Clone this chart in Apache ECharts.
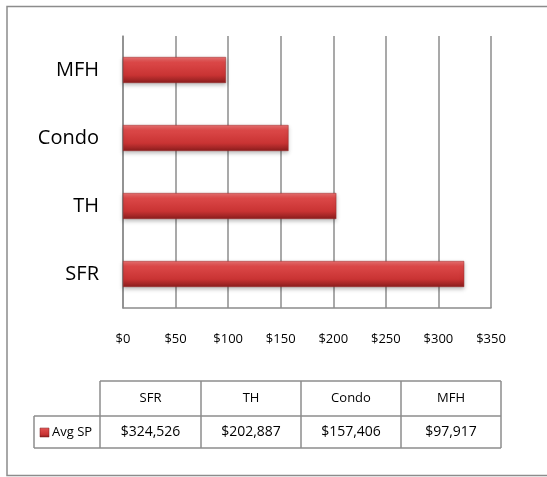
<!DOCTYPE html>
<html><head><meta charset="utf-8">
<script src="https://cdn.jsdelivr.net/npm/echarts@6/dist/echarts.min.js"></script>
<style>html,body{margin:0;padding:0;background:#fff;overflow:hidden}#c{width:547px;height:477px}</style>
</head><body><div id="c"></div>
<script>
var categories = ['SFR', 'TH', 'Condo', 'MFH'];
var avgSP = [324526, 202887, 157406, 97917];
var tableLabels = ['$324,526', '$202,887', '$157,406', '$97,917'];
var seriesName = 'Avg SP';
var xTicks = [0, 50, 100, 150, 200, 250, 300, 350];

var FONT = 'Open Sans, Liberation Sans, sans-serif';
var chart = echarts.init(document.getElementById('c'));

var barColor = new echarts.graphic.LinearGradient(0, 0, 0, 1, [
  {offset: 0, color: '#e87070'},
  {offset: 0.2, color: '#dc4848'},
  {offset: 0.7, color: '#c93333'},
  {offset: 1, color: '#8a1d1d'}
]);

var colX = [34, 100, 201, 301, 401, 501];
var rowY = [381, 416, 448];
var g = [];
var lineStyle = {stroke: '#8c8c8c', lineWidth: 1.5};
// outer frame (right side is outside the picture)
g.push({type: 'polyline', shape: {points: [[560, 6.5], [7, 6.5], [7, 475.5], [560, 475.5]]}, style: {fill: 'none', stroke: '#8c8c8c', lineWidth: 1.5}, silent: true});
g.push({type: 'line', shape: {x1: colX[1], y1: rowY[0], x2: colX[5], y2: rowY[0]}, style: lineStyle});
g.push({type: 'line', shape: {x1: colX[0], y1: rowY[1], x2: colX[5], y2: rowY[1]}, style: lineStyle});
g.push({type: 'line', shape: {x1: colX[0], y1: rowY[2], x2: colX[5], y2: rowY[2]}, style: lineStyle});
g.push({type: 'line', shape: {x1: colX[0], y1: rowY[1], x2: colX[0], y2: rowY[2]}, style: lineStyle});
for (var i = 1; i < colX.length; i++) {
  g.push({type: 'line', shape: {x1: colX[i], y1: rowY[0], x2: colX[i], y2: rowY[2]}, style: lineStyle});
}
for (var j = 0; j < categories.length; j++) {
  var cx = (colX[j + 1] + colX[j + 2]) / 2;
  g.push({type: 'text', style: {x: cx, y: (rowY[0] + rowY[1]) / 2, text: categories[j], textAlign: 'center', textVerticalAlign: 'middle', font: '13px ' + FONT, fill: '#000'}});
  g.push({type: 'text', style: {x: cx, y: (rowY[1] + rowY[2]) / 2, text: tableLabels[j], textAlign: 'center', textVerticalAlign: 'middle', font: '14px ' + FONT, fill: '#000'}});
}
g.push({type: 'rect', shape: {x: 40, y: 428, width: 9, height: 9}, style: {fill: barColor, stroke: '#7a1a1a', lineWidth: 0.5}});
g.push({type: 'text', style: {x: 52, y: (rowY[1] + rowY[2]) / 2, text: seriesName, textAlign: 'left', textVerticalAlign: 'middle', font: '13px ' + FONT, fill: '#000'}});

chart.setOption({
  animation: false,
  backgroundColor: '#fff',
  grid: {left: 123, right: 56, top: 36, bottom: 169, containLabel: false},
  xAxis: {
    type: 'value', min: 0, max: 350, interval: 50,
    axisLine: {show: true, lineStyle: {color: '#8c8c8c', width: 1.5}},
    axisTick: {show: false},
    splitLine: {show: true, lineStyle: {color: '#8c8c8c', width: 1.5}},
    axisLabel: {margin: 25, color: '#000', fontSize: 13, fontFamily: FONT, formatter: function (v) { return '$' + v; }}
  },
  yAxis: {
    type: 'category', data: categories,
    axisLine: {show: true, lineStyle: {color: '#8c8c8c', width: 1.5}},
    axisTick: {show: false},
    splitLine: {show: false},
    axisLabel: {margin: 24, color: '#000', fontSize: 20, fontFamily: FONT}
  },
  series: [{
    name: seriesName, type: 'bar', barWidth: 26,
    data: avgSP.map(function (v) { return v / 1000; }),
    itemStyle: {color: barColor, borderColor: '#9a2a2a', borderWidth: 0.5, shadowColor: 'rgba(0,0,0,0.25)', shadowBlur: 4, shadowOffsetY: 2}
  }],
  graphic: g
});
</script>
</body></html>
